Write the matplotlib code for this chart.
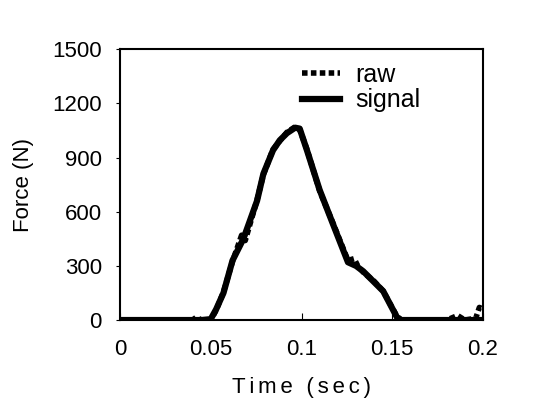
import matplotlib

matplotlib.use("Agg")
import matplotlib.pyplot as plt

plt.rcParams["font.family"] = ["Liberation Sans", "DejaVu Sans"]

# signal (smoothed) force trace
sig_t = [0.0, 0.045, 0.050, 0.053, 0.057, 0.062, 0.068, 0.0755, 0.079, 0.0843,
         0.088, 0.092, 0.0965, 0.099, 0.103, 0.110, 0.117, 0.1256, 0.130, 0.134,
         0.140, 0.145, 0.1526, 0.155, 0.200]
sig_f = [0, 0, 5, 60, 150, 330, 450, 660, 810, 940,
         995, 1035, 1065, 1060, 940, 720, 540, 320, 300, 270,
         210, 160, 15, 0, 0]

# raw force trace
raw_t = [0.0, 0.040, 0.042, 0.045, 0.050, 0.053, 0.057, 0.062, 0.067, 0.069,
         0.0755, 0.079, 0.0843, 0.092, 0.0965, 0.099, 0.103, 0.110, 0.117,
         0.1256, 0.129, 0.131, 0.134, 0.140, 0.145, 0.1526, 0.155, 0.180,
         0.186, 0.190, 0.196, 0.198, 0.200]
raw_f = [0, 0, 15, 0, 0, 55, 155, 325, 470, 440,
         665, 805, 945, 1040, 1070, 1055, 945, 715, 545,
         330, 340, 300, 265, 215, 160, 20, 0, 0,
         25, 0, 10, 70, 60]

x_ticks = [0, 0.05, 0.1, 0.15, 0.2]
x_tick_labels = ["0", "0.05", "0.1", "0.15", "0.2"]
y_ticks = [0, 300, 600, 900, 1200, 1500]

fig = plt.figure(figsize=(5.51, 4.2), dpi=100)
ax = fig.add_axes([0.2178, 0.238, 0.6588, 0.645])

ax.plot(raw_t, raw_f, color="black", linestyle=(0, (1, 0.6)), linewidth=4, label="raw")
ax.plot(sig_t, sig_f, color="black", linewidth=4.5, label="signal")

ax.set_xlim(0, 0.2)
ax.set_ylim(0, 1500)
ax.set_xticks(x_ticks)
ax.set_xticklabels(x_tick_labels)
ax.set_yticks(y_ticks)
ax.tick_params(axis="x", direction="in", length=5, labelsize=16, pad=14)
ax.tick_params(axis="y", direction="out", length=3, labelsize=16, pad=10)
for s in ax.spines.values():
    s.set_linewidth(1.5)

sp = "\u2006"
ax.set_xlabel(sp.join("Time (sec)"), fontsize=16, labelpad=12)
ax.set_ylabel("Force (N)", fontsize=16, labelpad=13)

leg = ax.legend(loc="upper left", bbox_to_anchor=(0.475, 0.985), frameon=False,
                fontsize=18, handlelength=1.5, handletextpad=0.6,
                labelspacing=0.05, borderaxespad=0)

fig.savefig("out.png", dpi=100)
